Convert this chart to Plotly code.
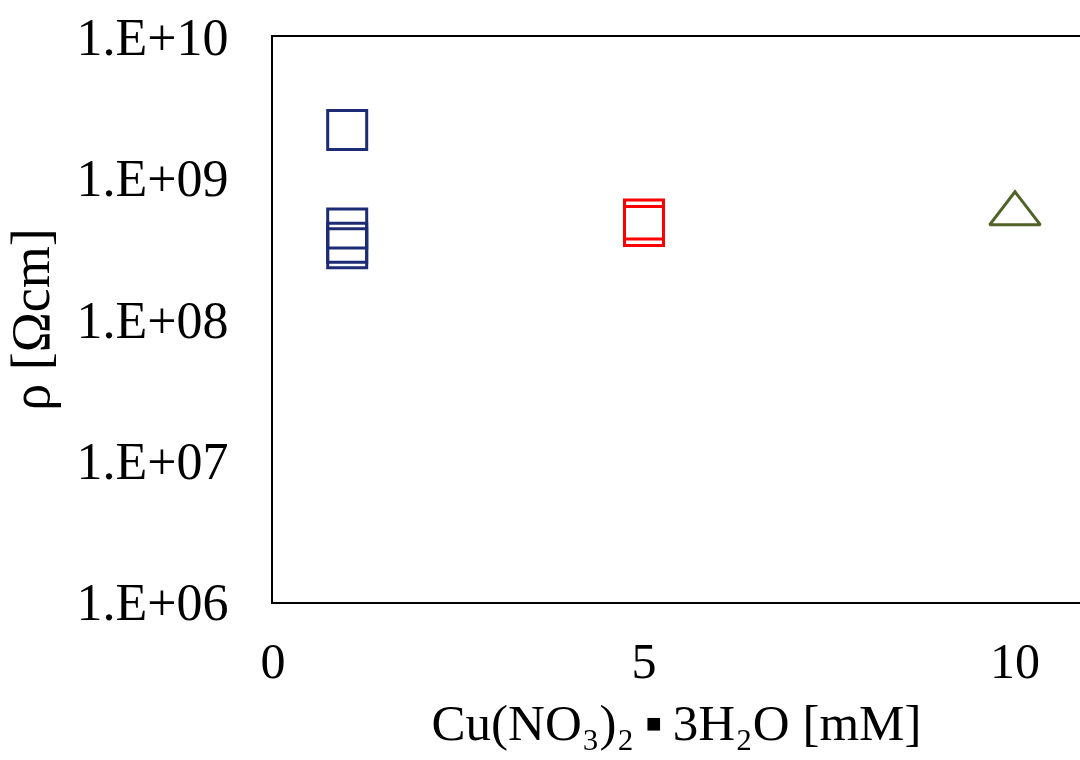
import plotly.graph_objects as go

# Data
blue_x = [1, 1, 1, 1]
blue_rho = [2.2e9, 4.4e8, 3.5e8, 3.2e8]
red_x = [5, 5]
red_rho = [5.1e8, 4.6e8]
green_x = [10]
green_rho = [5.6e8]

y_tickvals = [1e6, 1e7, 1e8, 1e9, 1e10]
y_ticktext = ["1.E+06", "1.E+07", "1.E+08", "1.E+09", "1.E+10"]
x_tickvals = [0, 5, 10]
x_ticktext = ["0", "5", "10"]

FONT = "Liberation Serif, Times New Roman, serif"

fig = go.Figure()
fig.add_trace(go.Scatter(
    x=blue_x, y=blue_rho, mode="markers",
    marker=dict(symbol="square-open", size=39, color="#1c2b74",
                line=dict(width=3, color="#1c2b74")),
    showlegend=False))
fig.add_trace(go.Scatter(
    x=red_x, y=red_rho, mode="markers",
    marker=dict(symbol="square-open", size=39, color="#ff0000",
                line=dict(width=3, color="#ff0000")),
    showlegend=False))
fig.add_trace(go.Scatter(
    x=green_x, y=green_rho, mode="markers",
    marker=dict(symbol="triangle-up-open", size=44, color="#4f6228",
                line=dict(width=3, color="#4f6228")),
    showlegend=False))

fig.update_layout(
    width=1080, height=760,
    margin=dict(l=273, r=0, t=37, b=158),
    paper_bgcolor="white", plot_bgcolor="white",
    font=dict(family=FONT, color="black", size=50),
    xaxis=dict(
        range=[0, 10.876], tickvals=x_tickvals, ticktext=x_ticktext,
        showgrid=False, zeroline=False, showline=True, linecolor="black",
        linewidth=2, mirror=True, ticks="", ticklabelstandoff=14,
        automargin=False,
        tickfont=dict(size=50, family=FONT),
        title=dict(text="Cu(NO₃)₂\u2009▪\u20093H₂O [mM]", font=dict(size=51, family=FONT),
                   standoff=16),
    ),
    yaxis=dict(
        type="log", range=[6, 10], tickvals=y_tickvals, ticktext=y_ticktext,
        showgrid=False, zeroline=False, showline=True, linecolor="black",
        linewidth=2, mirror=False, ticks="", ticklabelstandoff=32,
        automargin=False,
        tickfont=dict(size=52, family=FONT),
        title=dict(text="ρ [Ωcm]", font=dict(size=54, family=FONT),
                   standoff=10),
    ),
)

fig.write_html(
    "out.html",
    config={"displayModeBar": False},
    post_script="document.body.style.margin='0';document.body.style.overflow='hidden';",
)
